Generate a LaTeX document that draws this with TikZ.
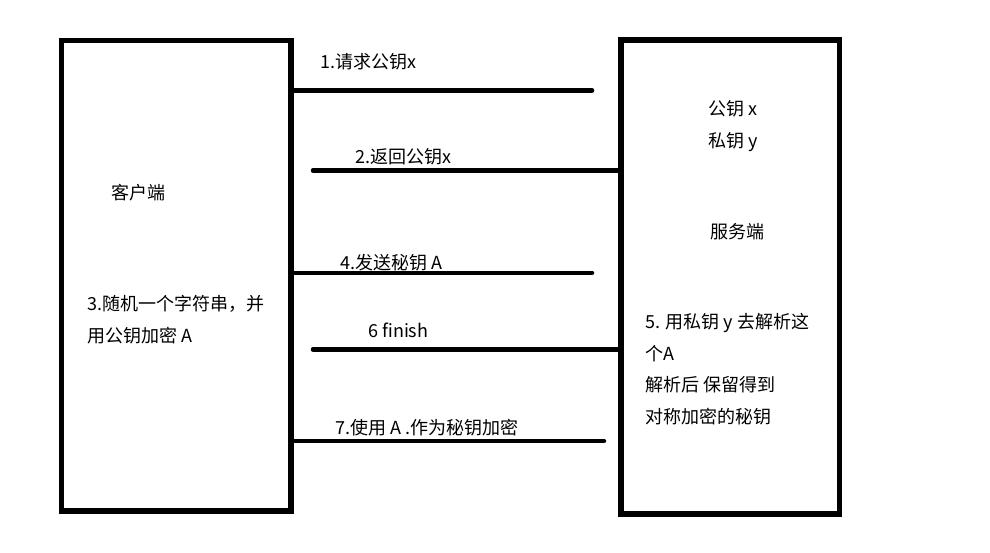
\documentclass[tikz,border=0pt]{standalone}
\usepackage{fontspec}
\setmainfont{Noto Sans CJK SC}
\begin{document}
\begin{tikzpicture}[x=1pt,y=-1pt,
  box/.style={draw, line width=5.5pt, inner sep=0pt},
  conn/.style={line width=4.5pt, line cap=round},
  lbl/.style={anchor=west, inner sep=0pt, align=left,
    font=\fontsize{18pt}{31.5pt}\selectfont}]
\fill[white] (0,0) rectangle (990,553);
\useasboundingbox (0,0) rectangle (990,553);
% boxes
\node[box, minimum width=229.5pt, minimum height=470.5pt] (client) at (176.25,275.75) {};
\node[box, minimum width=218.5pt, minimum height=474pt] (server) at (730.25,277) {};
% box texts
\node[lbl] (ctitle) at (111.5,193) {客户端};
\node[lbl] (cstep) at (87.5,319.75) {3.随机一个字符串，并\\用公钥加密 A};
\node[lbl] (skeys) at (708,126) {公钥 x\\私钥 y};
\node[lbl] (stitle) at (710,231.5) {服务端};
\node[lbl] (sstep) at (645,369) {5. 用私钥 y 去解析这\\个A\\解析后 保留得到\\对称加密的秘钥};
% free ends
\coordinate (m1e) at (592,90.5);
\coordinate (m2s) at (313,170.5);
\coordinate (m3e) at (592,273);
\coordinate (m4s) at (313,349.5);
\coordinate (m5e) at (604,441);
% connectors
\draw[conn] (m1e -| client.east) -- (m1e);
\draw[conn] (m2s) -- (m2s -| server.west);
\draw[conn] (m3e -| client.east) -- (m3e);
\draw[conn] (m4s) -- (m4s -| server.west);
\draw[conn] (m5e -| client.east) -- (m5e);
% connector labels
\node[lbl] (l1) at (320,61.5) {1.请求公钥x};
\node[lbl] (l2) at (355.5,156.5) {2.返回公钥x};
\node[lbl] (l3) at (340.5,262.5) {4.发送秘钥 A};
\node[lbl] (l4) at (368,330.5) {6 finish};
\node[lbl] (l5) at (335,428) {7.使用 A .作为秘钥加密};
\end{tikzpicture}
\end{document}
